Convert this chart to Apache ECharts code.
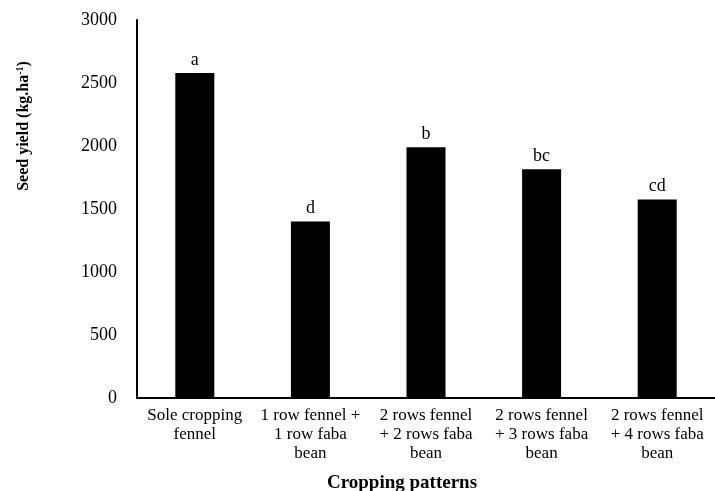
<!DOCTYPE html>
<html>
<head>
<meta charset="utf-8">
<title>Seed yield by cropping pattern</title>
<script src="https://cdn.jsdelivr.net/npm/echarts@6/dist/echarts.min.js"></script>
<style>
  html, body { margin: 0; padding: 0; background: #fff; }
  #chart { width: 715px; height: 491px; }
</style>
</head>
<body>
<div id="chart"></div>
<script>
// Cropping patterns (x categories)
const categories = [
  'Sole cropping\nfennel',
  '1 row fennel +\n1 row faba\nbean',
  '2 rows fennel\n+ 2 rows faba\nbean',
  '2 rows fennel\n+ 3 rows faba\nbean',
  '2 rows fennel\n+ 4 rows faba\nbean'
];
// Seed yield, kg/ha
const seedYield = [2580, 1400, 1990, 1815, 1575];
// Mean-separation letters shown above each bar
const letters = ['a', 'd', 'b', 'bc', 'cd'];
// Y axis ticks
const yTicks = [0, 500, 1000, 1500, 2000, 2500, 3000];

const serif = '"Liberation Serif", "Times New Roman", serif';
const chart = echarts.init(document.getElementById('chart'));

chart.setOption({
  animation: false,
  grid: { left: 137, top: 20, width: 584, height: 378, containLabel: false },
  xAxis: {
    type: 'category',
    data: categories,
    axisLine: { show: true, lineStyle: { color: '#000', width: 2 } },
    axisTick: { show: false },
    axisLabel: {
      interval: 0,
      margin: 8,
      color: '#000',
      fontFamily: serif,
      fontSize: 17,
      lineHeight: 19
    }
  },
  yAxis: {
    type: 'value',
    min: yTicks[0],
    max: yTicks[yTicks.length - 1],
    interval: yTicks[1] - yTicks[0],
    splitLine: { show: false },
    axisTick: { show: false },
    axisLine: { show: true, lineStyle: { color: '#000', width: 2 } },
    axisLabel: {
      margin: 20,
      color: '#000',
      fontFamily: serif,
      fontSize: 18,
      formatter: v => String(v)
    }
  },
  series: [{
    type: 'bar',
    data: seedYield,
    barWidth: 39,
    itemStyle: { color: '#000' },
    label: {
      show: true,
      position: 'top',
      distance: 4,
      color: '#000',
      fontFamily: serif,
      fontSize: 18,
      formatter: p => letters[p.dataIndex]
    }
  }],
  graphic: [
    {
      type: 'text',
      x: 24,
      y: 126,
      rotation: Math.PI / 2,
      style: {
        text: '{b|Seed yield (kg.ha}{s|-1}{b|)}',
        align: 'center',
        verticalAlign: 'middle',
        fill: '#000',
        rich: {
          b: { fontFamily: serif, fontWeight: 'bold', fontSize: 16, fill: '#000' },
          s: { fontFamily: serif, fontWeight: 'bold', fontSize: 10, fill: '#000', padding: [0, 0, 8, 0] }
        }
      }
    },
    {
      type: 'text',
      x: 402,
      y: 483,
      style: {
        text: 'Cropping patterns',
        align: 'center',
        verticalAlign: 'middle',
        fill: '#000',
        font: 'bold 19px ' + serif
      }
    }
  ]
});
</script>
</body>
</html>
